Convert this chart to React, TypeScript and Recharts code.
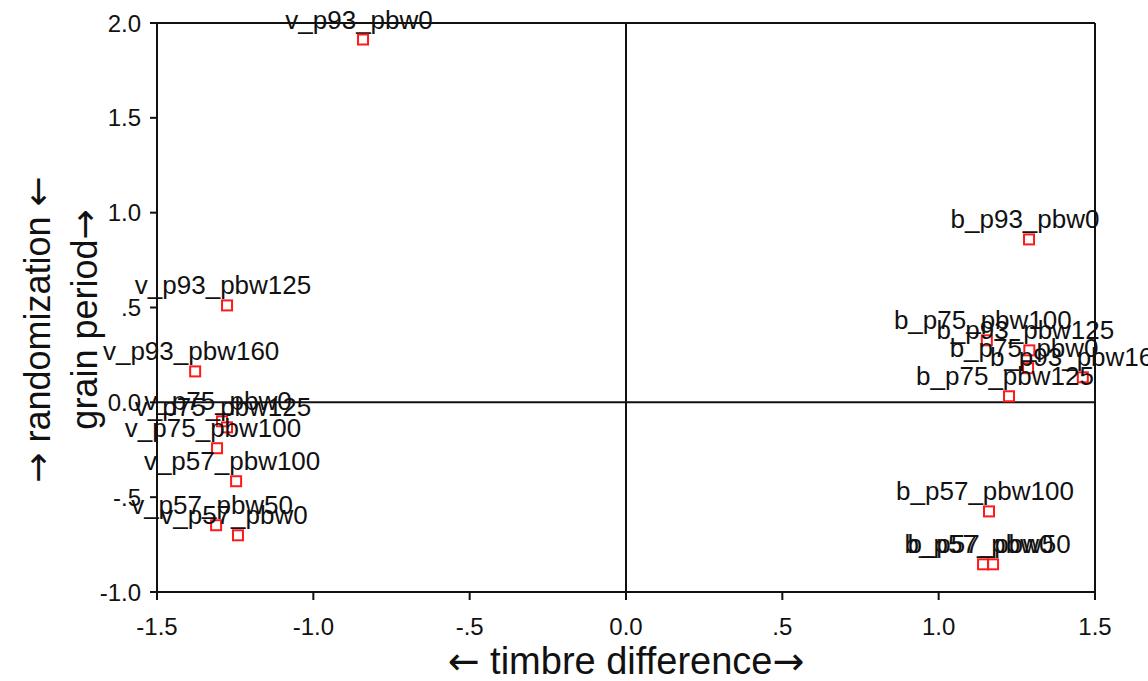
import React from "react";
import { ScatterChart, Scatter, XAxis, YAxis, ReferenceLine } from "recharts";

const names = [
  "v_p93_pbw0", "b_p93_pbw0", "v_p93_pbw125", "v_p93_pbw160",
  "b_p75_pbw100", "b_p93_pbw125", "b_p75_pbw0", "b_p93_pbw160", "b_p75_pbw125",
  "v_p75_pbw0", "v_p75_pbw125", "v_p75_pbw100", "v_p57_pbw100", "v_p57_pbw50", "v_p57_pbw0",
  "b_p57_pbw100", "b_p57_pbw0", "b_p57_pbw50",
];
const timbre = [
  -0.841, 1.289, -1.276, -1.378,
  1.154, 1.29, 1.286, 1.461, 1.225,
  -1.292, -1.276, -1.308, -1.247, -1.311, -1.241,
  1.161, 1.142, 1.174,
];
const grain = [
  1.913, 0.859, 0.511, 0.163,
  0.327, 0.274, 0.18, 0.132, 0.032,
  -0.1, -0.132, -0.242, -0.416, -0.648, -0.701,
  -0.575, -0.854, -0.854,
];
const xTicks = [-1.5, -1, -0.5, 0, 0.5, 1, 1.5];
const yTicks = [-1, -0.5, 0, 0.5, 1, 1.5, 2];

const data = names.map((name, i) => ({ name, x: timbre[i], y: grain[i] }));

const FONT = "'Liberation Sans', Arial, sans-serif";
const ARROW = "'DejaVu Sans', sans-serif";

// spss style: ".5", "-.5", "0.0", "1.0"
const fmt = (v: number) => {
  if (v === 0) return "0.0";
  if (Math.abs(v) < 1) return (v < 0 ? "-" : "") + "." + String(Math.abs(v)).split(".")[1];
  return v.toFixed(1);
};

const Marker = (props: any) => {
  const { cx, cy, payload } = props;
  return (
    <g>
      <text x={cx - 4} y={cy - 11} textAnchor="middle" fontSize={26} fontFamily={FONT} fill="#111">
        {payload.name}
      </text>
      <rect x={cx - 5} y={cy - 5} width={10} height={10} fill="none" stroke="#ff1a1a" strokeWidth={2} />
    </g>
  );
};

const XTitle = (props: any) => {
  const vb = props.viewBox;
  return (
    <text x={vb.x + vb.width / 2} y={vb.y + 82} textAnchor="middle" fontSize={38} fontFamily={FONT} fill="#111">
      <tspan fontFamily={ARROW}>{"\u2190"}</tspan>
      {" timbre difference"}
      <tspan fontFamily={ARROW}>{"\u2192"}</tspan>
    </text>
  );
};

const YTitle = (props: any) => {
  const vb = props.viewBox;
  const cy = vb.y + vb.height / 2;
  return (
    <g fontFamily={FONT} fontSize={36} fill="#111">
      <text x={37} y={cy + 22} textAnchor="middle" dominantBaseline="central" transform={`rotate(-90 37 ${cy + 22})`}>
        <tspan fontFamily={ARROW}>{"\u2192"}</tspan>
        {" randomization "}
        <tspan fontFamily={ARROW}>{"\u2190"}</tspan>
      </text>
      <text x={84} y={cy + 12} textAnchor="middle" dominantBaseline="central" transform={`rotate(-90 84 ${cy + 12})`}>
        {"grain period"}
        <tspan fontFamily={ARROW}>{"\u2192"}</tspan>
      </text>
    </g>
  );
};

export default function App() {
  return (
    <div style={{ position: "absolute", left: 0, top: 0, background: "#fff" }}>
      <ScatterChart width={1148} height={681} margin={{ top: 23, right: 53, bottom: 0, left: 0 }}>
        <XAxis
          type="number"
          dataKey="x"
          domain={[-1.5, 1.5]}
          ticks={xTicks}
          tickFormatter={fmt}
          height={89}
          stroke="#111"
          strokeWidth={2}
          tickSize={8}
          tickMargin={18}
          tick={{ fontSize: 24, fontFamily: FONT, fill: "#111" }}
          label={{ content: XTitle }}
        />
        <YAxis
          type="number"
          dataKey="y"
          domain={[-1, 2]}
          ticks={yTicks}
          tickFormatter={fmt}
          width={157}
          stroke="#111"
          strokeWidth={2}
          tickSize={7}
          tickMargin={9}
          tick={{ fontSize: 24, fontFamily: FONT, fill: "#111" }}
          label={{ content: YTitle }}
        />
        <ReferenceLine x={0} stroke="#111" strokeWidth={2} />
        <ReferenceLine y={0} stroke="#111" strokeWidth={2} />
        <ReferenceLine x={1.5} stroke="#111" strokeWidth={2} />
        <ReferenceLine y={2} stroke="#111" strokeWidth={2} />
        <Scatter data={data} shape={Marker} isAnimationActive={false} />
      </ScatterChart>
    </div>
  );
}
